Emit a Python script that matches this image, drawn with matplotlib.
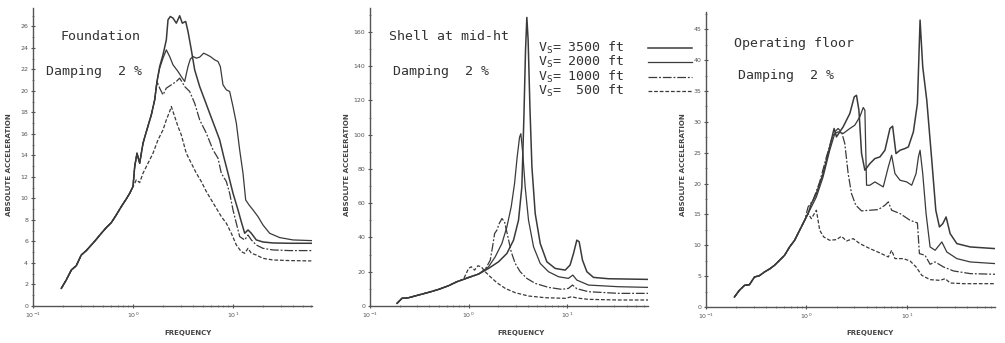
import matplotlib
matplotlib.use("Agg")
import matplotlib.pyplot as plt
from matplotlib.lines import Line2D
from matplotlib.ticker import LogLocator, MultipleLocator, NullFormatter, FixedLocator

# ---------------- data ----------------
# Panel 1: Foundation
f1_low = [0.192, 0.215, 0.242, 0.271, 0.304, 0.341, 0.383, 0.430, 0.482, 0.541, 0.607, 0.681, 0.764, 0.857, 0.927, 1.0]
v1_low = [1.64, 2.42, 3.35, 3.75, 4.74, 5.15, 5.67, 6.20, 6.76, 7.29, 7.75, 8.47, 9.24, 9.95, 10.48, 11.10]
f1_env = [1.04, 1.096, 1.166, 1.259, 1.359, 1.525, 1.647, 1.738]
v1_env = [12.96, 14.2, 13.27, 15.13, 16.2, 17.77, 19.16, 20.87]

f1_a = [1.848, 1.995, 2.154, 2.239, 2.362, 2.512, 2.712, 2.929, 3.113, 3.363, 3.548, 3.83, 4.137, 4.642, 5.21, 5.84, 6.56, 7.36, 8.07, 8.91, 10.0, 11.22, 12.1, 13.09, 14.13, 15.25, 17.1, 19.95, 25.1, 36.9, 60.7]
v1_a = [22.26, 23.35, 24.74, 26.6, 26.91, 26.76, 26.29, 26.98, 26.29, 26.45, 25.52, 23.81, 21.95, 20.4, 19.16, 17.92, 16.68, 15.44, 13.89, 12.34, 10.48, 8.93, 7.84, 6.76, 7.07, 6.76, 6.14, 5.95, 5.86, 5.83, 5.83]
f1_b = [1.848, 1.995, 2.154, 2.326, 2.512, 2.818, 3.113, 3.286, 3.548, 3.743, 3.981, 4.30, 4.642, 5.09, 5.50, 5.93, 6.56, 7.08, 7.47, 7.94, 8.58, 9.26, 10.0, 10.8, 11.66, 12.59, 13.39, 14.45, 15.85, 17.78, 19.95, 23.26, 29.3, 39.8, 60.7]
v1_b = [22.11, 23.04, 23.81, 23.19, 22.42, 21.8, 21.18, 20.87, 22.26, 22.95, 23.19, 23.04, 23.13, 23.5, 23.35, 23.19, 22.88, 22.73, 22.26, 20.56, 20.09, 19.94, 18.54, 16.99, 14.51, 12.34, 9.86, 9.4, 8.93, 8.31, 7.53, 6.76, 6.36, 6.14, 6.08]
f1_c = [1.848, 1.995, 2.154, 2.417, 2.712, 2.929, 3.286, 3.687, 4.137, 4.642, 5.412, 6.31, 7.08, 7.64, 8.58, 9.26, 10.0, 10.8, 11.66, 13.09, 14.13, 15.25, 17.1, 19.95, 25.1, 36.9, 60.7]
v1_c = [20.25, 19.63, 20.25, 20.56, 20.87, 21.18, 20.4, 19.94, 18.85, 17.3, 16.06, 14.51, 13.74, 12.34, 11.57, 10.48, 8.93, 7.69, 6.45, 6.14, 6.6, 6.14, 5.67, 5.36, 5.21, 5.15, 5.15]
f1_d = [1.08, 1.166, 1.259, 1.413, 1.585, 1.778, 1.995, 2.154, 2.326, 2.417, 2.61, 2.818, 3.04, 3.41, 3.83, 4.30, 4.82, 5.41, 6.07, 6.81, 7.64, 8.58, 9.62, 10.8, 12.1, 13.09, 14.13, 15.25, 17.1, 19.95, 25.1, 36.9, 60.7]
v1_d = [11.72, 11.47, 12.34, 13.27, 14.2, 15.44, 16.37, 17.3, 18.08, 18.54, 17.61, 16.68, 15.91, 14.2, 13.27, 12.34, 11.57, 10.64, 9.86, 9.09, 8.31, 7.69, 6.76, 5.67, 5.05, 4.9, 5.36, 4.9, 4.74, 4.43, 4.28, 4.22, 4.19]

# Panel 2: Shell at mid-ht
f2_low = [0.188, 0.211, 0.247, 0.311, 0.393, 0.497, 0.627, 0.76, 0.887]
v2_low = [1.55, 4.47, 4.85, 6.41, 7.96, 9.71, 11.84, 14.17, 15.53]
f2_a = [1.0, 1.263, 1.595, 2.014, 2.447, 2.857, 3.21, 3.47, 3.64, 3.78, 3.90, 4.02, 4.19, 4.39, 4.74, 5.33, 6.22, 7.56, 9.55, 10.7, 11.6, 12.53, 13.24, 14.3, 15.85, 18.5, 26.2, 66.7]
v2_a = [16.7, 18.64, 21.94, 25.83, 30.68, 38.45, 50.1, 69.5, 110.3, 149.1, 168.5, 155.0, 116.1, 81.2, 54.0, 36.5, 25.83, 21.94, 20.97, 23.88, 30.68, 38.45, 37.48, 26.8, 20.0, 16.7, 15.92, 15.53]
f2_b = [1.0, 1.263, 1.595, 1.862, 2.178, 2.447, 2.706, 2.926, 3.11, 3.29, 3.39, 3.55, 3.75, 4.055, 4.56, 5.33, 6.47, 8.17, 10.3, 11.41, 12.53, 16.45, 33.1, 66.7]
v2_b = [16.7, 18.64, 22.9, 28.7, 36.5, 46.2, 57.9, 71.5, 87.0, 98.6, 100.6, 88.9, 69.5, 50.1, 34.56, 24.85, 20.0, 17.09, 16.12, 18.06, 15.15, 12.23, 11.26, 10.87]
f2_c = [1.0, 1.263, 1.475, 1.66, 1.75, 1.836, 1.937, 2.046, 2.178, 2.317, 2.505, 2.706, 2.972, 3.34, 3.90, 4.74, 6.47, 8.83, 10.3, 11.33, 12.53, 16.45, 33.1, 66.7]
v2_c = [16.5, 18.64, 21.36, 26.8, 34.56, 42.3, 44.27, 48.16, 51.07, 49.13, 40.39, 31.65, 24.85, 20.0, 16.12, 13.2, 10.87, 9.71, 10.29, 12.23, 10.1, 8.35, 7.38, 7.38]
f2_d = [1.0, 1.064, 1.15, 1.244, 1.344, 1.475, 1.66, 1.937, 2.353, 2.972, 4.055, 5.98, 9.55, 11.15, 12.53, 16.45, 33.1, 66.7]
v2_d = [21.94, 22.9, 20.97, 23.5, 22.9, 20.0, 17.09, 13.59, 10.29, 7.77, 5.83, 4.85, 4.47, 5.44, 4.66, 3.88, 3.5, 3.5]

# Panel 3: Operating floor
f3_low = [0.192, 0.215, 0.242, 0.271, 0.304, 0.341, 0.383, 0.430, 0.482, 0.541, 0.607, 0.681, 0.764, 0.857, 0.962]
v3_low = [1.62, 2.70, 3.51, 3.62, 4.86, 5.08, 5.68, 6.16, 6.76, 7.57, 8.38, 9.73, 10.81, 12.43, 14.05]
f3_a = [1.04, 1.122, 1.259, 1.468, 1.71, 1.89, 1.995, 2.326, 2.712, 3.0, 3.16, 3.34, 3.55, 3.83, 4.30, 4.82, 5.41, 6.07, 6.81, 7.24, 7.82, 8.58, 9.62, 10.4, 11.66, 12.79, 13.59, 14.45, 15.85, 17.78, 19.5, 21.2, 22.9, 24.7, 27.1, 31.6, 43.0, 76.4]
v3_a = [15.14, 16.76, 18.38, 21.62, 25.95, 28.92, 27.57, 29.19, 31.35, 34.05, 34.3, 31.89, 24.86, 22.16, 23.24, 24.05, 24.32, 25.4, 28.92, 29.3, 24.86, 25.4, 25.68, 25.95, 28.38, 32.97, 46.49, 38.92, 33.51, 23.78, 15.68, 12.97, 13.51, 14.59, 11.89, 10.27, 9.73, 9.46]
f3_b = [1.04, 1.259, 1.468, 1.71, 1.92, 2.07, 2.326, 2.712, 3.04, 3.41, 3.69, 3.83, 3.98, 4.30, 4.82, 5.84, 6.56, 7.08, 7.64, 8.58, 10.0, 11.22, 12.4, 13.09, 13.59, 14.45, 15.6, 17.1, 19.2, 22.4, 25.1, 31.6, 43.0, 76.4]
v3_b = [15.14, 17.84, 21.08, 25.4, 28.11, 28.38, 28.11, 28.92, 29.46, 30.81, 32.32, 31.89, 19.73, 19.73, 20.27, 19.46, 22.7, 24.59, 21.62, 20.54, 20.27, 19.73, 21.62, 24.32, 25.4, 21.62, 15.14, 9.73, 9.19, 10.54, 8.92, 7.84, 7.3, 7.03]
f3_c = [1.04, 1.166, 1.359, 1.585, 1.778, 1.92, 2.07, 2.239, 2.417, 2.61, 2.818, 3.11, 3.55, 4.30, 5.21, 6.07, 6.56, 7.08, 8.58, 10.8, 12.79, 13.39, 15.25, 17.1, 19.2, 23.26, 29.3, 43.0, 76.4]
v3_c = [16.2, 17.3, 20.27, 24.32, 27.03, 28.38, 28.92, 28.38, 26.49, 21.62, 18.38, 16.49, 15.57, 15.68, 15.78, 16.49, 17.03, 15.68, 15.14, 14.05, 13.62, 8.65, 8.38, 6.92, 7.3, 6.49, 5.84, 5.41, 5.30]
f3_d = [1.04, 1.122, 1.259, 1.359, 1.49, 1.71, 1.995, 2.239, 2.512, 2.93, 3.41, 4.30, 5.41, 6.56, 7.08, 7.64, 9.26, 10.8, 12.4, 14.13, 17.1, 21.5, 24.2, 27.1, 36.9, 76.4]
v3_d = [15.14, 14.32, 15.68, 12.43, 11.35, 10.81, 10.92, 11.46, 10.7, 11.08, 10.27, 9.46, 8.76, 8.11, 9.19, 7.84, 7.84, 7.46, 6.49, 5.14, 4.43, 4.32, 4.59, 3.89, 3.78, 3.78]

legend_labels = ["3500", "2000", "1000", " 500"]
titles = ["Foundation", "Shell at mid-ht", "Operating floor"]
y_ticks = [list(range(0, 27, 2)), list(range(0, 161, 20)), list(range(0, 46, 5))]

# ---------------- figure ----------------
W, H = 1005, 343
fig = plt.figure(figsize=(W / 100, H / 100), dpi=100)
INK = "#3a3a3a"
MONO = "DejaVu Sans Mono"

def px(x0, y_top, x1, y_bot):
    return [x0 / W, 1 - y_bot / H, (x1 - x0) / W, (y_bot - y_top) / H]

boxes = [px(33, 8, 312, 306), px(370, 8, 648, 306), px(706, 12, 995, 307)]
xlims = [(0.1, 10 ** 1.79), (0.1, 10 ** 1.82), (0.1, 10 ** 1.88)]
ylims = [(0, 27.7), (0, 174), (0, 47.8)]

styles = [dict(ls="-", lw=1.1), dict(ls="-", lw=0.9),
          dict(ls=(0, (7, 1.5, 1.5, 1.5)), lw=0.9), dict(ls=(0, (3, 1.5)), lw=0.9)]

def cat(*parts):
    out = []
    for p in parts:
        out += list(p)
    return out

series = [
    [(cat(f1_low, f1_env, f1_a), cat(v1_low, v1_env, v1_a)),
     (cat(f1_low, f1_env, f1_b), cat(v1_low, v1_env, v1_b)),
     (cat(f1_low, f1_env, f1_c), cat(v1_low, v1_env, v1_c)),
     (cat(f1_low, f1_d), cat(v1_low, v1_d))],
    [(cat(f2_low, f2_a), cat(v2_low, v2_a)),
     (cat(f2_low, f2_b), cat(v2_low, v2_b)),
     (cat(f2_low, f2_c), cat(v2_low, v2_c)),
     (cat(f2_low, f2_d), cat(v2_low, v2_d))],
    [(cat(f3_low, f3_a), cat(v3_low, v3_a)),
     (cat(f3_low, f3_b), cat(v3_low, v3_b)),
     (cat(f3_low, f3_c), cat(v3_low, v3_c)),
     (cat(f3_low, f3_d), cat(v3_low, v3_d))],
]

freq_label_x = [188, 521, 870]
ylabel_x = [9, 347, 683]

for i in range(3):
    ax = fig.add_axes(boxes[i])
    for (fx, vy), st in zip(series[i], styles):
        ax.plot(fx, vy, color=INK, **st)
    ax.set_xscale("log")
    ax.set_xlim(*xlims[i])
    ax.set_ylim(*ylims[i])
    for s in ["top", "right"]:
        ax.spines[s].set_visible(False)
    for s in ["left", "bottom"]:
        ax.spines[s].set_color("#555555")
        ax.spines[s].set_linewidth(1.0)
    ax.xaxis.set_major_locator(LogLocator(base=10, numticks=10))
    ax.xaxis.set_minor_locator(LogLocator(base=10, subs=range(2, 10), numticks=20))
    ax.xaxis.set_minor_formatter(NullFormatter())
    ax.yaxis.set_major_locator(FixedLocator(y_ticks[i]))
    step = y_ticks[i][1] - y_ticks[i][0]
    ax.yaxis.set_minor_locator(MultipleLocator(step / 2))
    ax.tick_params(which="major", direction="inout", length=3, width=0.8,
                   labelsize=4.5, colors="#555555", pad=2)
    ax.tick_params(which="minor", direction="inout", length=2, width=0.6, colors="#777777")
    ax.patch.set_alpha(0)
    fig.text(ylabel_x[i] / W, 1 - 165 / H, "ABSOLUTE ACCELERATION", rotation=90,
             ha="center", va="center", fontsize=5, color="#444444", fontweight="bold")
    fig.text(freq_label_x[i] / W, 1 - 333 / H, "FREQUENCY", ha="center", va="center",
             fontsize=5, color="#444444", fontweight="bold")

# annotations (figure pixel positions)
def ftext(x, y, s, **kw):
    fig.text(x / W, 1 - y / H, s, ha="left", va="center", family=MONO,
             fontsize=9.5, color="#333333", **kw)

ftext(60, 36, titles[0])
ftext(46, 72, "Damping  2 %")
ftext(389, 37, titles[1])
ftext(393, 72, "Damping  2 %")
ftext(734, 43, titles[2])
ftext(738, 76, "Damping  2 %")

leg_y = [48, 62, 77, 91]
for lab, y, st in zip(legend_labels, leg_y, styles):
    ftext(538, y, r"V$_\mathregular{S}$= " + lab + " ft")
    fig.add_artist(Line2D([648 / W, 692 / W], [1 - y / H, 1 - y / H],
                          color=INK, transform=fig.transFigure, **st))

fig.savefig("out.png", dpi=100)
